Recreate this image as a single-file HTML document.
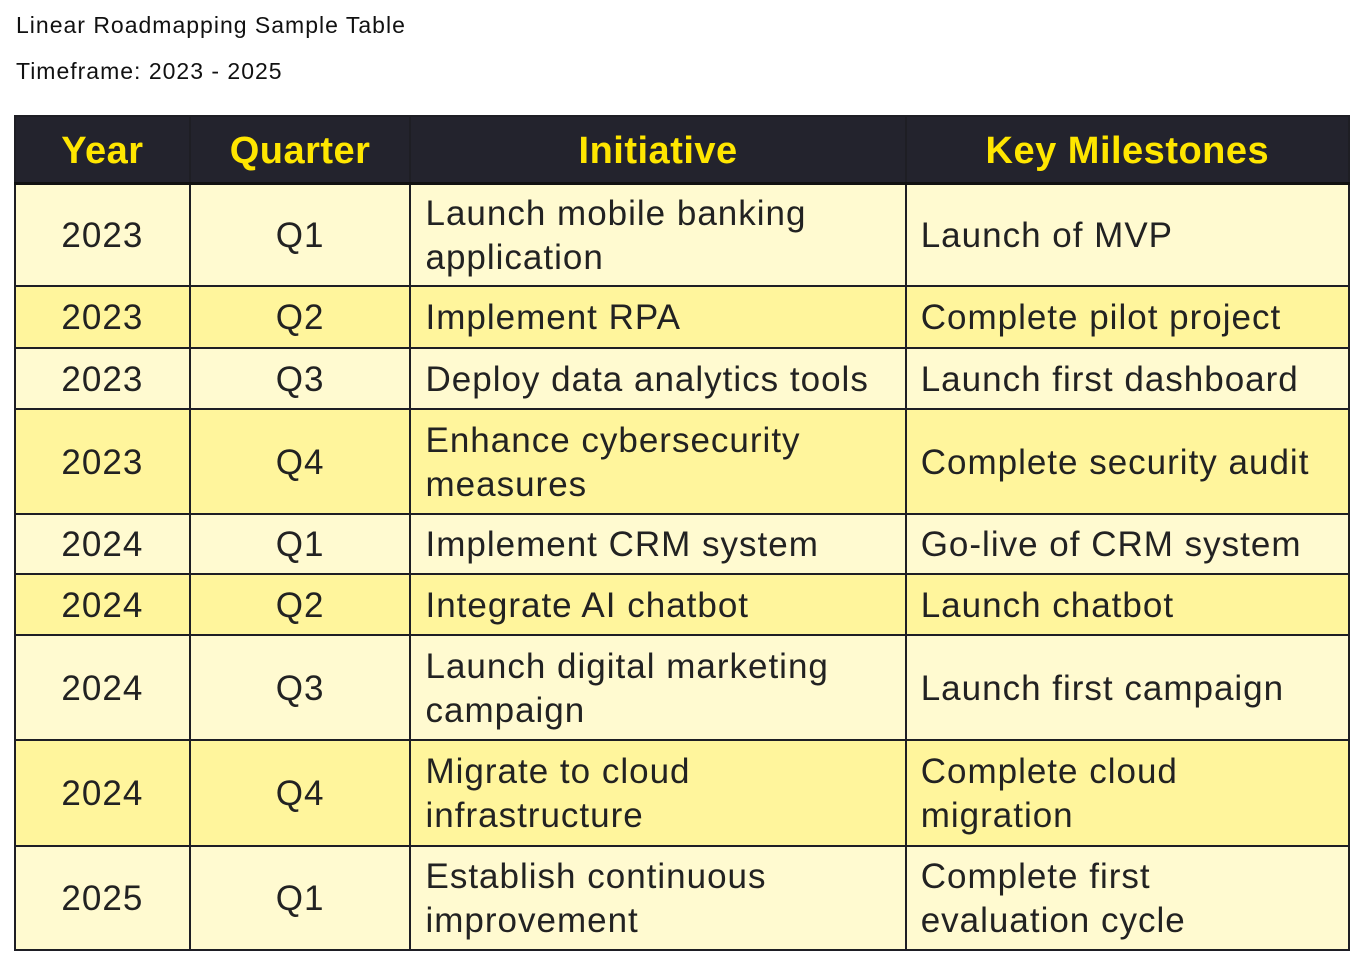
<!DOCTYPE html>
<html><head><style>
body{margin:0;background:#fff;width:1353px;height:965px;position:relative;font-family:"Liberation Sans",sans-serif;overflow:hidden}
.t{position:absolute;left:16px;font-size:23px;color:#111;letter-spacing:1px}
table{position:absolute;left:14px;top:115px;border-collapse:collapse;width:1336px}
td,th{border:2px solid #1e1e24;padding:3px 0 0 14px;font-size:35px;color:#222;line-height:44px;letter-spacing:1px}
th{background:#23232d;color:#ffe600;font-weight:bold;font-size:38px;text-align:center;padding:2px 0 0 0;height:63px;border-bottom:3px solid #111;letter-spacing:0.5px}
td.c{text-align:center;padding:3px 0 0 0}
tr.l td{background:#fffad0}
tr.d td{background:#fff59c}
</style></head><body>
<div class="t" style="top:12px">Linear Roadmapping Sample Table</div>
<div class="t" style="top:58px">Timeframe: 2023 - 2025</div>
<table>
<colgroup><col style="width:175px"><col style="width:221px"><col style="width:496px"><col style="width:444px"></colgroup>
<tr><th>Year</th><th>Quarter</th><th>Initiative</th><th>Key Milestones</th></tr>
<tr class="l" style="height:102px"><td class="c">2023</td><td class="c">Q1</td><td>Launch mobile banking<br>application</td><td>Launch of MVP</td></tr>
<tr class="d" style="height:62px"><td class="c">2023</td><td class="c">Q2</td><td>Implement RPA</td><td>Complete pilot project</td></tr>
<tr class="l" style="height:61px"><td class="c">2023</td><td class="c">Q3</td><td>Deploy data analytics tools</td><td>Launch first dashboard</td></tr>
<tr class="d" style="height:105px"><td class="c">2023</td><td class="c">Q4</td><td>Enhance cybersecurity<br>measures</td><td>Complete security audit</td></tr>
<tr class="l" style="height:60px"><td class="c">2024</td><td class="c">Q1</td><td>Implement CRM system</td><td>Go-live of CRM system</td></tr>
<tr class="d" style="height:61px"><td class="c">2024</td><td class="c">Q2</td><td>Integrate AI chatbot</td><td>Launch chatbot</td></tr>
<tr class="l" style="height:105px"><td class="c">2024</td><td class="c">Q3</td><td>Launch digital marketing<br>campaign</td><td>Launch first campaign</td></tr>
<tr class="d" style="height:106px"><td class="c">2024</td><td class="c">Q4</td><td>Migrate to cloud<br>infrastructure</td><td>Complete cloud<br>migration</td></tr>
<tr class="l" style="height:104px"><td class="c">2025</td><td class="c">Q1</td><td>Establish continuous<br>improvement</td><td>Complete first<br>evaluation cycle</td></tr>
</table>
</body></html>
